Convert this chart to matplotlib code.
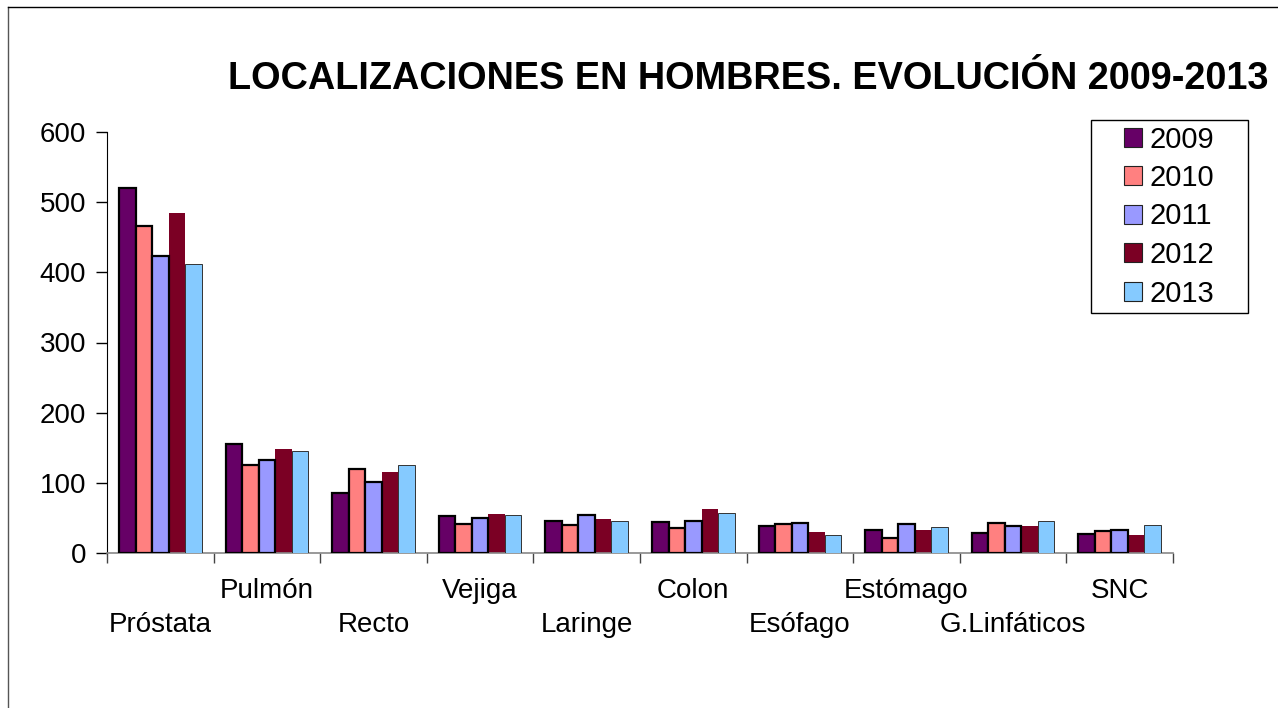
import matplotlib
matplotlib.use("Agg")
import matplotlib.pyplot as plt
import numpy as np
from matplotlib.lines import Line2D
from matplotlib.patches import Patch, Rectangle

plt.rcParams['font.family'] = ['Liberation Sans', 'DejaVu Sans']

categories = ["Próstata", "Pulmón", "Recto", "Vejiga", "Laringe",
              "Colon", "Esófago", "Estómago", "G.Linfáticos", "SNC"]
years = ["2009", "2010", "2011", "2012", "2013"]
v2009 = [520, 156, 86, 53, 45, 44, 38, 33, 28, 27]
v2010 = [466, 125, 120, 42, 40, 35, 42, 21, 43, 32]
v2011 = [423, 133, 101, 50, 54, 46, 43, 42, 38, 33]
v2012 = [485, 148, 116, 56, 48, 62, 30, 33, 38, 25]
v2013 = [412, 146, 125, 54, 45, 57, 26, 37, 46, 40]
series = [v2009, v2010, v2011, v2012, v2013]
yticks = [0, 100, 200, 300, 400, 500, 600]

colors = ["#660066", "#FF8080", "#9999FF", "#7B0024", "#85CAFF"]
edgecolors = ["black", "black", "black", "none", "#333333"]
linewidths = [1.6, 1.6, 1.6, 0, 0.7]

W, H = 1278, 708
fig = plt.figure(figsize=(W / 100, H / 100), dpi=100)
ax = fig.add_axes([107 / W, 1 - 553 / H, (1173 - 107) / W, (553 - 132) / H])

x = np.arange(len(categories))
bw = 0.155
for i, (vals, c, ec, lw) in enumerate(zip(series, colors, edgecolors, linewidths)):
    ax.bar(x + (i - 2) * bw, vals, width=bw, color=c, edgecolor=ec, linewidth=lw,
           zorder=3 if i != 3 else 2)

ax.set_xlim(-0.5, len(categories) - 0.5)
ax.set_ylim(0, 600)
ax.set_yticks(yticks)
ax.tick_params(axis='y', labelsize=20, length=8, width=1, direction='out', pad=7)

labels = [("\n" + c) if i % 2 == 0 else c for i, c in enumerate(categories)]
ax.set_xticks(x)
ax.set_xticklabels(labels, fontsize=20, linespacing=1.38)
ax.tick_params(axis='x', length=0, pad=18)
ax.set_xticks(np.arange(-0.5, len(categories), 1.0), minor=True)
ax.tick_params(axis='x', which='minor', length=7.5, width=1, color='#444444', direction='out')

for s in ['top', 'right']:
    ax.spines[s].set_visible(False)
ax.spines['left'].set_color('black')
ax.spines['bottom'].set_color('#888888')
ax.spines['bottom'].set_linewidth(1.2)

fig.text(748 / W, 1 - 79 / H, "LOCALIZACIONES EN HOMBRES. EVOLUCIÓN 2009-2013",
         fontsize=27.3, fontweight='bold', ha='center', va='center')

# legend box drawn manually
fig.add_artist(Rectangle((1090.7 / W, 1 - 313 / H), (1248 - 1090.7) / W, (313 - 120) / H,
                         transform=fig.transFigure, facecolor='white', edgecolor='black',
                         linewidth=1, zorder=4))
handles = [Patch(facecolor=c, edgecolor='#222222', linewidth=0.8) for c in colors]
leg = fig.legend(handles, years, loc='center',
                 bbox_to_anchor=(1169 / W, 1 - 216.5 / H), fontsize=21,
                 frameon=False, handlelength=0.65, handleheight=0.65, handletextpad=0.25,
                 labelspacing=0.36, borderpad=0, borderaxespad=0)
leg.set_zorder(5)

# outer frame lines
fig.add_artist(Line2D([8 / W, 8 / W], [0, 1 - 7 / H], transform=fig.transFigure,
                      color='#555555', linewidth=1))
fig.add_artist(Line2D([8 / W, 1], [1 - 7 / H, 1 - 7 / H], transform=fig.transFigure,
                      color='black', linewidth=1))

fig.savefig("out.png", dpi=100)
